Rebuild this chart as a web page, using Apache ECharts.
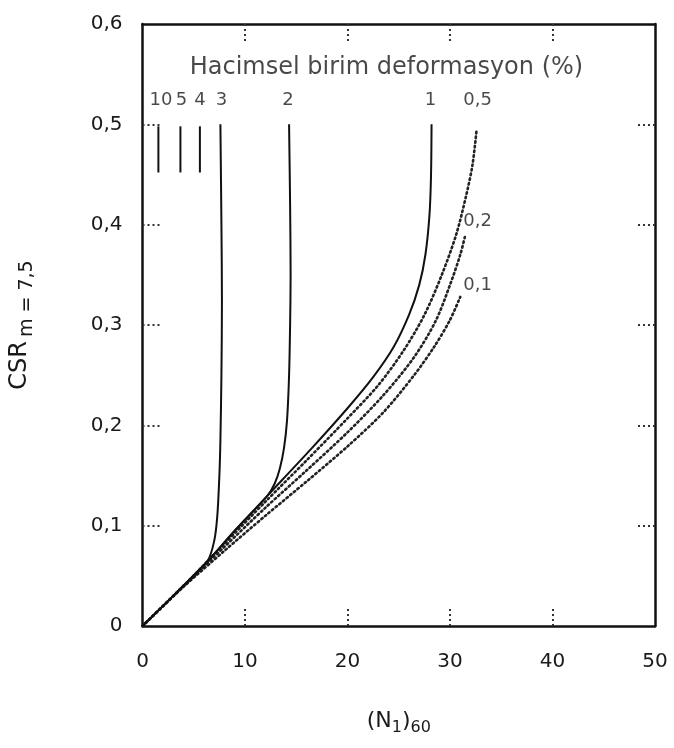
<!DOCTYPE html>
<html><head><meta charset="utf-8">
<script src="https://cdn.jsdelivr.net/npm/echarts@6/dist/echarts.min.js"></script>
<style>html,body{margin:0;padding:0;background:#fff}#c{width:674px;height:748px}</style>
</head><body><div id="c"></div>
<script>
// x: (N1)60, y: CSR m=7.5
const xTicks = [0, 10, 20, 30, 40, 50];
const yTicks = [0, 0.1, 0.2, 0.3, 0.4, 0.5, 0.6];

const curve3 = [[0,0],[3,0.03],[6.3,0.064],[7.0,0.085],[7.3,0.11],[7.5,0.15],[7.6,0.185],[7.7,0.25],[7.75,0.325],[7.7,0.4],[7.6,0.5]];
const curve2 = [[0,0],[3,0.03],[6.3,0.064],[9,0.095],[12.2,0.13],[12.9,0.142],[13.4,0.157],[13.8,0.177],[14.1,0.205],[14.3,0.25],[14.4,0.3],[14.45,0.35],[14.4,0.42],[14.3,0.5]];
const curve1 = [[0,0],[3,0.03],[6.3,0.064],[9,0.095],[12.2,0.13],[16.5,0.177],[20,0.217],[22.5,0.248],[24.5,0.278],[26,0.31],[27,0.34],[27.6,0.37],[28,0.41],[28.15,0.45],[28.2,0.5]];
const dot05 = [[0,0],[4,0.04],[8,0.082],[12,0.124],[16,0.165],[20,0.207],[23,0.24],[25.5,0.275],[27.5,0.31],[29.2,0.35],[30.6,0.39],[31.6,0.43],[32.2,0.46],[32.6,0.495]];
const dot02 = [[0,0],[4,0.04],[8,0.079],[12,0.118],[16,0.155],[20,0.193],[23.5,0.23],[26.5,0.268],[28.6,0.304],[30,0.34],[31,0.37],[31.5,0.39]];
const dot01 = [[0,0],[4,0.039],[8,0.075],[12,0.11],[16,0.144],[20,0.179],[23.5,0.213],[26.5,0.25],[28.5,0.279],[30,0.305],[31,0.328]];
const shortLineX = [1.55, 3.7, 5.6];
const shortLineY = [0.452, 0.498];
const curveLabels = [
  ['10', 1.8, 0.524], ['5', 3.8, 0.524], ['4', 5.6, 0.524], ['3', 7.7, 0.524],
  ['2', 14.2, 0.524], ['1', 28.1, 0.524], ['0,5', 32.7, 0.524],
  ['0,2', 32.7, 0.403], ['0,1', 32.7, 0.34]
];
const headerLabel = ['Hacimsel birim deformasyon (%)', 23.8, 0.556];

const FONT = '"DejaVu Sans", sans-serif';
const TXT = '#1a1a1a';
const chart = echarts.init(document.getElementById('c'));

const solid = (d) => ({type:'line', data:d, smooth:0.3, symbol:'none', xAxisIndex:0, yAxisIndex:0,
  lineStyle:{color:'#111', width:2}, z:3});
const dotted = (d) => ({type:'line', data:d, smooth:0.3, symbol:'none', xAxisIndex:0, yAxisIndex:0,
  lineStyle:{color:'#222', width:2.6, type:[1.5,3.2], cap:'round'}, z:2});

const shortSeries = shortLineX.map(x => ({type:'line', symbol:'none', data:[[x, shortLineY[0]],[x, shortLineY[1]]],
  lineStyle:{color:'#111', width:2}}));

const tickStyle = {show:true, inside:true, length:20, lineStyle:{color:'#333', width:2, type:[2,3]}};
const fmtNum = v => String(+v.toFixed(1)).replace('.', ',');

chart.setOption({
  animation:false,
  backgroundColor:'#fff',
  grid:{left:141, right:19, top:24, bottom:122, containLabel:false},
  xAxis:[
    {type:'value', min:0, max:50, interval:10, position:'bottom',
     axisLine:{show:true, onZero:false, lineStyle:{color:'#111', width:2.5}},
     axisTick:Object.assign({}, tickStyle, {customValues:[10,20,30,40]}),
     axisLabel:{color:TXT, fontSize:20, fontFamily:FONT, margin:26,
       customValues:xTicks, showMinLabel:true, showMaxLabel:true},
     splitLine:{show:false},
     name:'{a|(N}{s|1}{a|)}{s|60}', nameLocation:'middle', nameGap:80,
     nameTextStyle:{fontSize:22, fontFamily:FONT, color:TXT,
       rich:{a:{fontSize:22, fontFamily:FONT, color:TXT}, s:{fontSize:16, fontFamily:FONT, color:TXT, verticalAlign:'bottom', padding:[14,0,0,0]}}}
    },
    {type:'value', min:0, max:50, interval:10, position:'top',
     axisLine:{show:true, onZero:false, lineStyle:{color:'#111', width:2.5}},
     axisTick:Object.assign({}, tickStyle, {customValues:[10,20,30,40]}),
     axisLabel:{show:false}, splitLine:{show:false}}
  ],
  yAxis:[
    {type:'value', min:0, max:0.6, interval:0.1, position:'left',
     axisLine:{show:true, onZero:false, lineStyle:{color:'#111', width:2.5}},
     axisTick:Object.assign({}, tickStyle, {customValues:[0.1,0.2,0.3,0.4,0.5]}),
     axisLabel:{color:TXT, fontSize:20, fontFamily:FONT, margin:20, formatter:fmtNum, customValues:yTicks},
     splitLine:{show:false},
     name:'{a|CSR}{s|m = 7,5}', nameLocation:'middle', nameGap:106, nameRotate:90,
     nameTextStyle:{fontSize:24, fontFamily:FONT, color:TXT,
       rich:{a:{fontSize:24, fontFamily:FONT, color:TXT}, s:{fontSize:19, fontFamily:FONT, color:TXT, verticalAlign:'bottom', padding:[14,0,0,4]}}}
    },
    {type:'value', min:0, max:0.6, interval:0.1, position:'right',
     axisLine:{show:true, onZero:false, lineStyle:{color:'#111', width:2.5}},
     axisTick:Object.assign({}, tickStyle, {customValues:[0.1,0.2,0.3,0.4,0.5]}),
     axisLabel:{show:false}, splitLine:{show:false}}
  ],
  series:[
    dotted(dot01), dotted(dot02), dotted(dot05),
    solid(curve1), solid(curve2), solid(curve3),
    ...shortSeries,
    {type:'scatter', symbolSize:0, data:curveLabels.map(l => ({value:[l[1], l[2]], name:l[0]})),
     label:{show:true, position:'inside', formatter:p => p.name, color:TXT, fontSize:18, fontFamily:FONT}, z:5},
    {type:'scatter', symbolSize:0, data:[{value:[headerLabel[1], headerLabel[2]], name:headerLabel[0]}],
     label:{show:true, position:'inside', formatter:p => p.name, color:TXT, fontSize:24, fontFamily:FONT}, z:5}
  ]
});
</script></body></html>
